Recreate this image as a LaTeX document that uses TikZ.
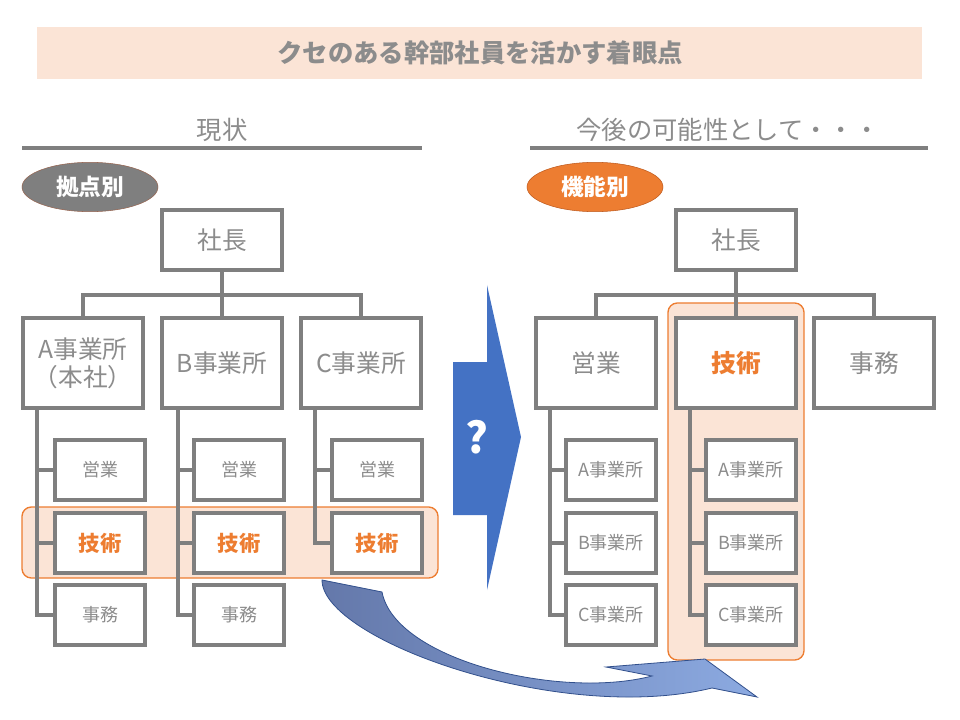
\documentclass[tikz,border=0pt]{standalone}
\usepackage{fontspec}
\setmainfont{Noto Sans CJK JP}
\usetikzlibrary{shapes.geometric}
\begin{document}
\definecolor{bx}{HTML}{7F7F7F}
\definecolor{tx}{HTML}{8C8C8C}
\definecolor{org}{HTML}{ED7D31}
\definecolor{pch}{HTML}{FBE4D6}
\definecolor{blu}{HTML}{4472C4}
\definecolor{brn}{HTML}{966450}
\definecolor{dorg}{HTML}{BE5A1E}
\definecolor{cvl}{HTML}{6478AA}
\definecolor{cvr}{HTML}{8CAAE1}
\definecolor{cvd}{HTML}{32508C}
\begin{tikzpicture}[x=0.75pt,y=-0.75pt,
  box/.style={draw=bx,line width=3pt,fill=white,text=tx,inner sep=0pt,align=center},
  big/.style={box,minimum width=90pt,minimum height=67pt,font=\fontsize{18.5}{21}\selectfont},
  top/.style={big,minimum height=45pt},
  sm/.style={box,minimum width=68pt,minimum height=45pt,font=\fontsize{13.5}{16}\selectfont},
  tec/.style={text=org,font=\fontsize{16}{19}\selectfont\bfseries},
  ln/.style={draw=bx,line width=3pt},
  hl/.style={draw=org,fill=pch,line width=1pt,rounded corners=7pt},
  ell/.style={ellipse,minimum width=102pt,minimum height=37pt,inner sep=0pt,text=white,font=\fontsize{17}{20}\selectfont\bfseries}]
\useasboundingbox (0,0) rectangle (960,720);
\fill[pch] (37,27) rectangle (922,79);
\node[text=tx,font=\fontsize{19}{22}\selectfont\bfseries] (title) at (480,53) {クセのある幹部社員を活かす着眼点};
\node[text=tx,font=\fontsize{19}{22}\selectfont] (h1) at (222,130) {現状};
\node[text=tx,font=\fontsize{19}{22}\selectfont] (h2) at (728,130) {今後の可能性として・・・};
\draw[bx,line width=2.5pt] (22,148) -- (422,148);
\draw[bx,line width=2.5pt] (530,148) -- (928,148);
\node[ell,draw=brn,fill=bx] (e1) at (90,187) {拠点別};
\node[ell,draw=dorg,fill=org] (e2) at (595,187) {機能別};
% highlights
\draw[hl] (22,507) rectangle (438,578);
\draw[hl] (668,303) rectangle (804,660);
% left tree lines
\draw[ln] (222,270) -- (222,318);
\draw[ln] (83,318) |- (83,295) -- (361,295) -- (361,318);
\draw[ln] (37,408) |- (100,615); \draw[ln] (37,470) -- (80,470); \draw[ln] (37,543) -- (80,543);
\draw[ln] (178,408) |- (230,615); \draw[ln] (178,470) -- (220,470); \draw[ln] (178,543) -- (220,543);
\draw[ln] (315,408) |- (360,543); \draw[ln] (315,470) -- (350,470);
\node[top] (ls) at (222,240) {社長};
\node[big] (la) at (83,363) {A事業所\\（本社）};
\node[big] (lbx) at (222,363) {B事業所};
\node[big] (lc) at (361,363) {C事業所};
\node[sm] (a1) at (100,470) {営業};
\node[sm,tec] (a2) at (100,543) {技術};
\node[sm] (a3) at (100,615) {事務};
\node[sm] (b1) at (239,470) {営業};
\node[sm,tec] (b2) at (239,543) {技術};
\node[sm] (b3) at (239,615) {事務};
\node[sm] (c1) at (377,470) {営業};
\node[sm,tec] (c2) at (377,543) {技術};
% right tree
\draw[ln] (736,270) -- (736,318);
\draw[ln] (596,318) |- (596,295) -- (874,295) -- (874,318);
\draw[ln] (550,408) |- (600,615); \draw[ln] (550,470) -- (590,470); \draw[ln] (550,543) -- (590,543);
\draw[ln] (690,408) |- (740,615); \draw[ln] (690,470) -- (730,470); \draw[ln] (690,543) -- (730,543);
\node[top] (rs) at (736,240) {社長};
\node[big] (r1) at (596,363) {営業};
\node[big,text=org,font=\fontsize{18.5}{21}\selectfont\bfseries] (r2) at (736,363) {技術};
\node[big] (r3) at (874,363) {事務};
\node[sm] (s1) at (611,470) {A事業所};
\node[sm] (s2) at (611,543) {B事業所};
\node[sm] (s3) at (611,615) {C事業所};
\node[sm] (t1) at (751,470) {A事業所};
\node[sm] (t2) at (751,543) {B事業所};
\node[sm] (t3) at (751,615) {C事業所};
% big arrow
\fill[blu] (453,362) -- (487,362) -- (487,285) -- (521,437) -- (487,590) -- (487,515) -- (453,515) -- cycle;
\node[text=white,font=\fontsize{32}{36}\selectfont\bfseries] (q) at (477,437) {?};
% curved arrow
\shade[left color=cvl,right color=cvr,draw=cvd,line width=0.6pt]
 (322,580) .. controls (322,640) and (560,725) .. (712,688) -- (757,697) -- (705,659) -- (606,667) -- (652,676)
 .. controls (560,700) and (395,660) .. (382,592) -- cycle;
\end{tikzpicture}
\end{document}
